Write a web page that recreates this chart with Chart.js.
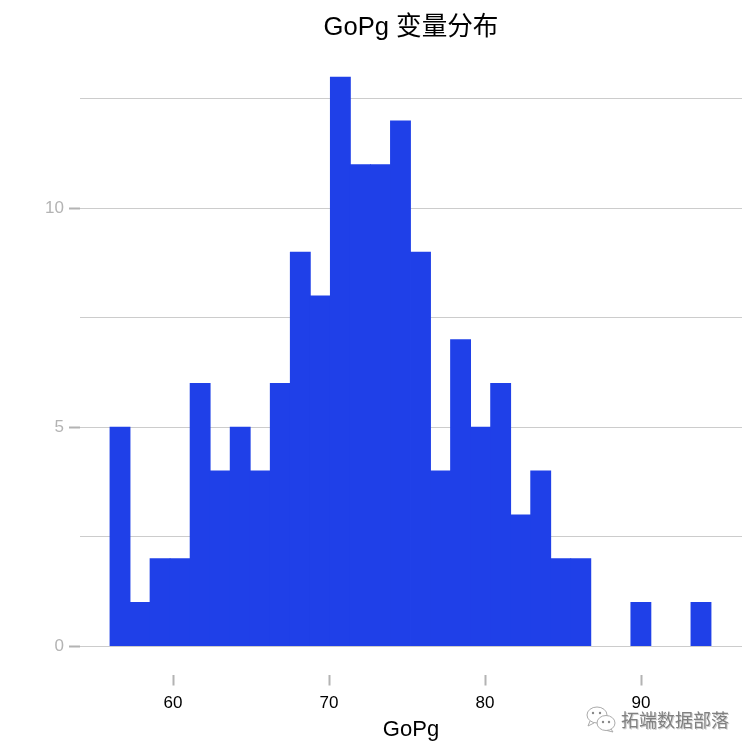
<!DOCTYPE html>
<html><head><meta charset="utf-8">
<style>html,body{margin:0;padding:0;background:#fff}canvas{display:block}</style>
<script src="https://cdn.jsdelivr.net/npm/chart.js@4"></script>
</head><body><canvas id="c" width="753" height="753"></canvas>
<script>
const binCenters=[56.603,57.887,59.171,60.456,61.740,63.024,64.308,65.592,66.877,68.161,69.445,70.729,72.013,73.298,74.582,75.866,77.150,78.434,79.719,81.003,82.287,83.571,84.855,86.140,87.424,88.708,89.992,91.276,92.560,93.845];
const counts=[5,1,2,2,6,4,5,4,6,9,8,13,11,11,12,9,4,7,5,6,3,4,2,2,0,0,1,0,0,1];
const xTicks=[60,70,80,90];
const yTicks=[0,2.5,5,7.5,10,12.5];
const yLabelled=[0,5,10];
const titleText='GoPg 变量分布';
const xTitle='GoPg';
const watermark='拓端数据部落';
const font='"Liberation Sans","Noto Sans CJK SC",sans-serif';

const watermarkPlugin={id:'wm',afterDraw(ch){
  const c=ch.ctx;c.save();
  c.font='18px "Noto Sans CJK SC",sans-serif';c.textBaseline='middle';c.textAlign='left';
  c.fillStyle='#d0d0d0';c.fillText(watermark,622,721);
  c.fillStyle='#808080';c.fillText(watermark,621,720);
  c.strokeStyle='#aaa';c.lineWidth=1;c.fillStyle='#fff';
  c.beginPath();c.ellipse(597,715,10,8,0,0,Math.PI*2);c.stroke();
  c.beginPath();c.moveTo(590,721);c.lineTo(588,726);c.lineTo(594,723);c.stroke();
  c.beginPath();c.ellipse(606,723,9,7.5,0,0,Math.PI*2);c.fill();c.stroke();
  c.beginPath();c.moveTo(611,729);c.lineTo(613,732);c.lineTo(607,730.5);c.stroke();
  c.fillStyle='#888';
  [[593,713],[600,713],[603,722],[609,722]].forEach(p=>{c.beginPath();c.arc(p[0],p[1],1.2,0,Math.PI*2);c.fill();});
  c.restore();
}};

new Chart(document.getElementById('c'),{
  type:'bar',
  data:{datasets:[{data:binCenters.map((x,i)=>({x,y:counts[i]})),
    backgroundColor:c=>counts[c.dataIndex]===0?'rgba(0,0,0,0)':'#1F40E8',
    borderWidth:0,barThickness:20.2}]},
  plugins:[watermarkPlugin],
  options:{
    responsive:false,animation:false,
    layout:{padding:{left:0,right:11,top:0,bottom:10}},
    plugins:{
      legend:{display:false},tooltip:{enabled:false},
      title:{display:true,fullSize:false,text:titleText,color:'#000',font:{family:font,size:25.6,weight:'normal',lineHeight:1.2},padding:{top:13,bottom:4.8}}
    },
    scales:{
      x:{type:'linear',offset:false,min:54.038,max:96.474,
        afterBuildTicks(a){a.ticks=xTicks.map(v=>({value:v}));},
        afterFit(a){a.height=68.5;},
        border:{display:false},
        grid:{offset:false,drawOnChartArea:false,drawTicks:true,tickLength:11,tickWidth:2,tickColor:'#b3b3b3'},
        ticks:{color:'#000',font:{family:font,size:17},padding:8,maxRotation:0,autoSkip:false},
        title:{display:true,text:xTitle,color:'#000',font:{family:font,size:22},padding:{top:0,bottom:0}}
      },
      y:{min:-0.65,max:13.65,
        afterBuildTicks(a){a.ticks=yTicks.map(v=>({value:v}));},
        afterFit(a){a.width=80;},
        border:{display:false},
        grid:{color:'#cccccc',lineWidth:1,tickLength:11,tickWidth:2,
          tickColor:c=>yLabelled.includes(c.tick&&c.tick.value)?'#b3b3b3':'rgba(0,0,0,0)'},
        ticks:{color:'#b3b3b3',font:{family:font,size:17},padding:5,autoSkip:false,
          callback:v=>yLabelled.includes(v)?String(v):''}
      }
    }
  }
});
</script></body></html>
